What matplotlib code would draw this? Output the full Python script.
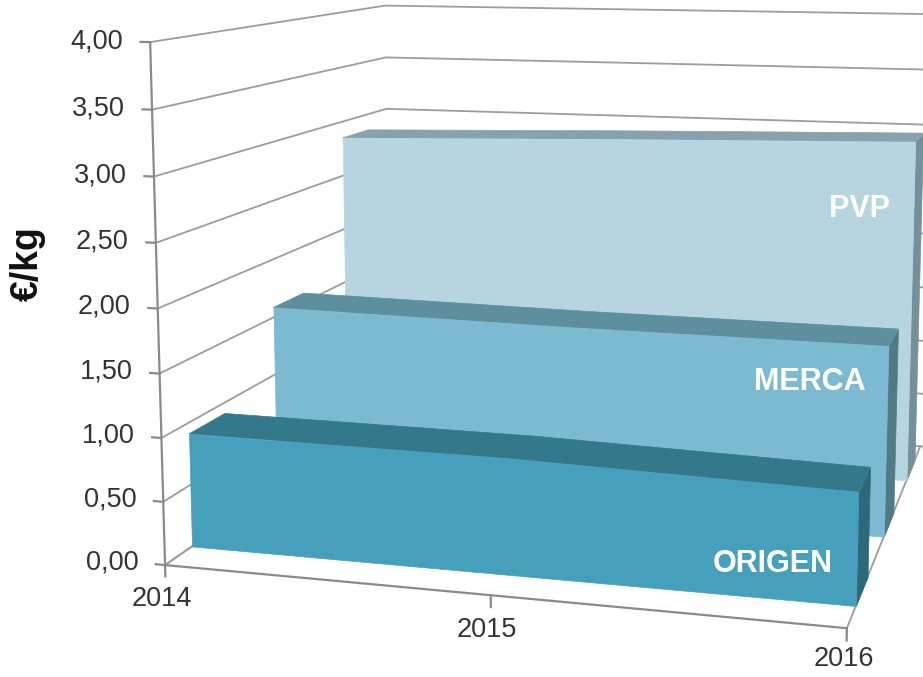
import numpy as np
import matplotlib
matplotlib.use("Agg")
import matplotlib.pyplot as plt
from mpl_toolkits.mplot3d.art3d import Poly3DCollection

plt.rcParams["font.family"] = ["Liberation Sans", "DejaVu Sans"]

years = [2014, 2015, 2016]
origen = [0.91, 0.905, 0.85]
merca = [1.585, 1.56, 1.555]
pvp = [2.85, 2.92, 2.98]
yticks = [0, 0.5, 1, 1.5, 2, 2.5, 3, 3.5, 4]
yticklabels = ["0,00", "0,50", "1,00", "1,50", "2,00", "2,50", "3,00", "3,50", "4,00"]

# back to front: name, values, depth slot, front / top / side colours
series = [
    ("PVP", pvp, 2.5, "#b6d5e1", "#85a2ae", "#74909b"),
    ("MERCA", merca, 1.5, "#7bbad0", "#5d8f9f", "#4f7b87"),
    ("ORIGEN", origen, 0.485, "#469fbb", "#33798b", "#2c6a7b"),
]
HALF = 0.2
GRID = "#9c9c9c"
AXIS = "#8a8a8a"
TEXT = "#333333"

W, H = 923, 677
fig = plt.figure(figsize=(W / 100, H / 100), dpi=100)

# big square axes, so that its centre falls on the camera's principal point
S = 2600
FOCAL = 390.72 / S
cx, cy = 553, H - 207
ax = fig.add_axes([(cx - 0.95 / 1.85 * S) / W, (cy - 0.95 / 1.85 * S) / H, S / W, S / H], projection="3d")
ax.set_proj_type("persp", focal_length=FOCAL)
ax.view_init(elev=8.6, azim=-74.5)
ax.computed_zorder = False
ax.set_axis_off()

# limits are centred on the point the camera looks at
box = np.array([3.227, 3.125, 2.475]) * FOCAL
ax.set_xlim(2015.055 - 1, 2015.055 + 1, view_margin=0)
ax.set_ylim(0.706 - 1.5, 0.706 + 1.5, view_margin=0)
ax.set_zlim(2.709 - 2, 2.709 + 2, view_margin=0)
ax.set_box_aspect(box, zoom=np.linalg.norm(box) / (1.8294640721620434 * 25 / 24))

x0, x1 = years[0], years[-1]

# walls
for v in yticks:
    ax.plot([x0, x0, x1 + 0.5], [0, 3, 3], [v, v, v], color=GRID, lw=1.3, zorder=1)
    ax.plot([x0 - 0.03, x0], [0, 0], [v, v], color=AXIS, lw=1.6, zorder=2)
    ax.text(x0 - 0.085, 0, v, yticklabels[yticks.index(v)], ha="right", va="center", fontsize=19.5, color=TEXT, zorder=9)

# floor and axes
ax.plot([x0, x0], [0, 0], [0, 4], color=AXIS, lw=1.6, zorder=2)
ax.plot([x0, x1], [0, 0], [0, 0], color=AXIS, lw=1.6, zorder=2)
ax.plot([x0, x0], [0, 3], [0, 0], color=GRID, lw=1.3, zorder=1)
ax.plot([x1, x1], [0, 3], [0, 0], color=GRID, lw=1.3, zorder=1)
for yr, lab_x, lab_z in zip(years, [-0.012, -0.012, -0.006], [-0.27, -0.27, -0.225]):
    ax.plot([yr, yr], [0, 0], [0, -0.09], color=AXIS, lw=1.6, zorder=2)
    ax.text(yr + lab_x, 0, lab_z, str(yr), ha="center", va="center", fontsize=19.5, color=TEXT, zorder=9)

# one solid per series
z = 3
for name, vals, slot, c_front, c_top, c_side in series:
    front, back = slot - HALF, slot + HALF
    front_face = [(x, front, v) for x, v in zip(years, vals)] + [(x1, front, 0), (x0, front, 0)]
    side_face = [(x1, front, 0), (x1, back, 0), (x1, back, vals[-1]), (x1, front, vals[-1])]
    top_faces = [
        [(years[i], front, vals[i]), (years[i + 1], front, vals[i + 1]),
         (years[i + 1], back, vals[i + 1]), (years[i], back, vals[i])]
        for i in range(len(years) - 1)
    ]
    for verts, colour in ([side_face], c_side), (top_faces, c_top), ([front_face], c_front):
        poly = Poly3DCollection(verts, facecolor=colour, edgecolor=colour, linewidths=0.5, zorder=z)
        ax.add_collection3d(poly, autolim=False)
        z += 1

# series labels on the front faces
ax.text(2015.824, 2.3, 2.38, "PVP", ha="center", va="center", fontsize=22, fontweight="bold", color="white", zorder=20)
ax.text(2015.765, 1.3, 1.225, "MERCA", ha="center", va="center", fontsize=22, fontweight="bold", color="white", zorder=20)
ax.text(2015.765, 0.3, 0.255, "ORIGEN", ha="center", va="center", fontsize=22, fontweight="bold", color="white", zorder=20)

fig.text(28 / W, 1 - 264 / H, "€/kg", rotation=90, ha="center", va="center", fontsize=27, fontweight="bold", color="#111111")

fig.savefig("out.png", dpi=100)
